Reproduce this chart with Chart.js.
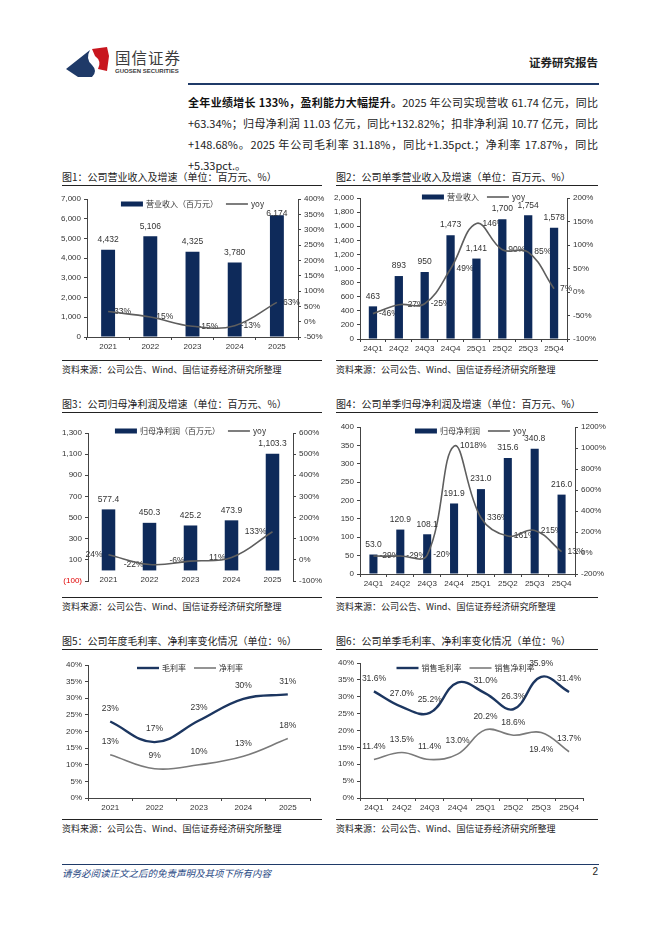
<!DOCTYPE html>
<html lang="zh-CN">
<head>
<meta charset="utf-8">
<title>国信证券 证券研究报告</title>
<script src="https://cdn.jsdelivr.net/npm/chart.js@4.4.1/dist/chart.umd.min.js"></script>
<style>
  html, body { margin: 0; padding: 0; background: #fff; }
  body { width: 662px; height: 936px; position: relative; overflow: hidden;
         font-family: "Noto Sans CJK SC", sans-serif; color: #222; }
  .abs { position: absolute; }
  .brand { left: 115px; top: 48px; font-size: 15.5px; line-height: 18px; letter-spacing: 1px; color: #3c3c3c; }
  .brand-en { left: 115px; top: 68px; font-family: Arial, "Liberation Sans", sans-serif; font-size: 6px; font-weight: bold; color: #3c3c3c; }
  .report { right: 64px; top: 54px; font-size: 11.5px; font-weight: bold; color: #222; }
  .topline { left: 188px; top: 83px; width: 411px; height: 2px; background: #1f3a68; }
  .para { left: 188px; top: 92px; width: 410px; font-size: 11px; line-height: 21px; color: #222; }
  .para div { text-align: justify; text-align-last: justify; }
  .para div.last { text-align-last: left; }
  .para b { font-weight: bold; color: #111; }
  .ftitle { height: 15px; font-size: 10px; line-height: 13px; border-bottom: 1.2px solid #222; white-space: nowrap; }
  .fsrc { font-size: 9px; line-height: 12px; padding-top: 3px; border-top: 1.2px solid #222; white-space: nowrap; }
  .left { left: 62px; width: 260px; }
  .right { left: 336px; width: 262px; }
  .footline { left: 62px; top: 864px; width: 537px; height: 1px; background: #1f3a68; }
  .foot { left: 62px; top: 866px; font-size: 9.5px; font-style: italic; color: #2a4a85; }
  .pageno { right: 64px; top: 866px; font-family: Arial, sans-serif; font-size: 10px; color: #222; }
</style>
</head>
<body>

<svg class="abs" style="left:64px;top:44px" width="48" height="36" viewBox="0 0 48 36">
  <path d="M2 25 L26 6 Q21 15 28 21 Q34 27 28 33 L14 33 Z" fill="#1f3a68"/>
  <path d="M28 5 L43 3 L45 12 L43 27 L34 25 Q38 17 31 12 Z" fill="#c8161e"/>
</svg>
<div class="abs brand">国信证券</div>
<div class="abs brand-en">GUOSEN SECURITIES</div>
<div class="abs report">证券研究报告</div>
<div class="abs topline"></div>

<div class="abs para">
  <div><b>全年业绩增长 133%，盈利能力大幅提升。</b>2025 年公司实现营收 61.74 亿元，同比</div>
  <div>+63.34%；归母净利润 11.03 亿元，同比+132.82%；扣非净利润 10.77 亿元，同比</div>
  <div>+148.68%。2025 年公司毛利率 31.18%，同比+1.35pct.；净利率 17.87%，同比</div>
  <div class="last">+5.33pct.。</div>
</div>

<div class="abs ftitle left" style="top:170px">图1：公司营业收入及增速（单位：百万元、%）</div>
<div class="abs ftitle right" style="top:170px">图2：公司单季营业收入及增速（单位：百万元、%）</div>
<div class="abs fsrc left" style="top:360px">资料来源：公司公告、Wind、国信证券经济研究所整理</div>
<div class="abs fsrc right" style="top:360px">资料来源：公司公告、Wind、国信证券经济研究所整理</div>

<div class="abs ftitle left" style="top:397px">图3：公司归母净利润及增速（单位：百万元、%）</div>
<div class="abs ftitle right" style="top:397px">图4：公司单季归母净利润及增速（单位：百万元、%）</div>
<div class="abs fsrc left" style="top:597px">资料来源：公司公告、Wind、国信证券经济研究所整理</div>
<div class="abs fsrc right" style="top:597px">资料来源：公司公告、Wind、国信证券经济研究所整理</div>

<div class="abs ftitle left" style="top:634px">图5：公司年度毛利率、净利率变化情况（单位：%）</div>
<div class="abs ftitle right" style="top:634px">图6：公司单季毛利率、净利率变化情况（单位：%）</div>
<div class="abs fsrc left" style="top:819px">资料来源：公司公告、Wind、国信证券经济研究所整理</div>
<div class="abs fsrc right" style="top:819px">资料来源：公司公告、Wind、国信证券经济研究所整理</div>

<div class="abs footline"></div>
<div class="abs foot">请务必阅读正文之后的免责声明及其项下所有内容</div>
<div class="abs pageno">2</div>

<script>
// 數據
const years = ['2021', '2022', '2023', '2024', '2025'];
const quarters = ['24Q1', '24Q2', '24Q3', '24Q4', '25Q1', '25Q2', '25Q3', '25Q4'];

const revenueAnnual = [4432, 5106, 4325, 3780, 6174];
const revenueAnnualYoy = [33, 15, -15, -13, 63];
const revenueQuarter = [463, 893, 950, 1473, 1141, 1700, 1754, 1578];
const revenueQuarterYoy = [-46, -27, -25, 49, 146, 90, 85, 7];

const profitAnnual = [577.4, 450.3, 425.2, 473.9, 1103.3];
const profitAnnualYoy = [24, -22, -6, 11, 133];
const profitQuarter = [53.0, 120.9, 108.1, 191.9, 231.0, 315.6, 340.8, 216.0];
const profitQuarterYoy = [-29, -29, -20, 1018, 336, 161, 215, 13];

const grossMarginAnnual = [23.0, 16.8, 23.3, 29.83, 31.18];
const netMarginAnnual = [13.0, 8.8, 10.0, 12.54, 17.87];
const grossMarginQuarter = [31.6, 27.0, 25.2, 34.2, 31.0, 26.3, 35.9, 31.4];
const netMarginQuarter = [11.4, 13.5, 11.4, 13.0, 20.2, 18.6, 19.4, 13.7];

const NAVY = '#0e2a5a';
const GRAY = '#5e5e5e';
const LINE_NAVY = '#1c3660';
const LINE_GRAY = '#7a7a7a';
const AXIS = '#444';
const PAD_T = 12, AX_L = 45, AX_R = 45, AX_B = 22;

Chart.defaults.font.family = 'Arial, "Liberation Sans", "Noto Sans CJK SC", sans-serif';
Chart.defaults.font.size = 8;
Chart.defaults.color = '#333';

const fmtInt = v => Number(v).toLocaleString('en-US');
const fmt1 = v => Number(v).toLocaleString('en-US', { minimumFractionDigits: 1, maximumFractionDigits: 1 });
const pct0 = v => Math.round(v) + '%';
const pct1 = v => Number(v).toFixed(1) + '%';

function makeCanvas(area, rightAxis) {
    const c = document.createElement('canvas');
    const w = (area.R - area.L) + AX_L + (rightAxis ? AX_R : 12);
    const h = (area.B - area.T) + PAD_T + AX_B;
    c.width = w;
    c.height = h;
    c.style.cssText = `position:absolute;left:${area.L - AX_L}px;top:${area.T - PAD_T}px;width:${w}px;height:${h}px`;
    document.body.appendChild(c);
    return c;
}

function yAxis(position, min, max, step, fmt, extraTicks, extraGrid) {
    return {
        position, min, max,
        ticks: Object.assign({ stepSize: step, callback: fmt, padding: 3, autoSkip: false, color: '#333' }, extraTicks || {}),
        grid: Object.assign({ display: true, drawOnChartArea: false, drawTicks: true, tickLength: 3, color: AXIS, tickColor: AXIS }, extraGrid || {}),
        border: { display: true, color: AXIS, width: 1 },
        afterFit: s => { s.width = position === 'left' ? AX_L : AX_R; }
    };
}

function xAxis(extra) {
    return Object.assign({
        type: 'category', offset: true,
        ticks: { padding: 2, autoSkip: false, maxRotation: 0, color: '#333' },
        grid: { display: true, drawOnChartArea: false, drawTicks: true, tickLength: 3, color: AXIS, offset: true },
        border: { display: true, color: AXIS, width: 1 },
        afterFit: s => { s.height = AX_B; }
    }, extra || {});
}

function baseOptions(scales, padRight) {
    return {
        responsive: false,
        maintainAspectRatio: false,
        animation: false,
        events: [],
        layout: { padding: { top: PAD_T, left: 0, right: padRight || 0, bottom: 0 } },
        plugins: { legend: { display: false }, tooltip: { enabled: false } },
        scales
    };
}

// 數據標籤：折線標籤畫在柱子下面，柱子標籤畫在最上面
function drawTags(chart, layer) {
    const ctx = chart.ctx;
    chart.data.datasets.forEach((ds, di) => {
        if (!ds.tags || (ds.tagLayer || 'over') !== layer) return;
        const meta = chart.getDatasetMeta(di);
        ctx.save();
        ctx.font = '8.5px Arial, "Liberation Sans", sans-serif';
        ctx.fillStyle = '#333';
        ctx.textBaseline = 'middle';
        meta.data.forEach((el, i) => {
            const text = ds.tags[i];
            if (text == null) return;
            const place = Array.isArray(ds.tagPlace) ? ds.tagPlace[i] : ds.tagPlace;
            let x = el.x, y = el.y;
            if (place === 'top') { ctx.textAlign = 'center'; y -= (ds.tagGap || 10); }
            else if (place === 'bottom') { ctx.textAlign = 'center'; y += 17; }
            else if (place === 'right') { ctx.textAlign = 'left'; x += 6; }
            else if (place === 'left') { ctx.textAlign = 'right'; x -= 6; }
            if (ds.tagMinY != null) y = Math.max(y, chart.chartArea.top + ds.tagMinY);
            ctx.fillText(text, x, y);
        });
        ctx.restore();
    });
}

const pointTags = {
    id: 'pointTags',
    beforeDatasetsDraw(chart) { drawTags(chart, 'under'); },
    afterDatasetsDraw(chart) { drawTags(chart, 'over'); }
};

// 圖3 的分類標籤：貼在左軸 0 值那條橫線下面
const zeroLineLabels = {
    id: 'zeroLineLabels',
    afterDraw(chart) {
        const ctx = chart.ctx, xs = chart.scales.x, ys = chart.scales.y;
        const y0 = ys.getPixelForValue(0);
        ctx.save();
        ctx.font = '8px Arial, "Liberation Sans", sans-serif';
        ctx.fillStyle = '#333';
        ctx.textAlign = 'center';
        ctx.textBaseline = 'middle';
        chart.data.labels.forEach((lab, i) => ctx.fillText(lab, xs.getPixelForValue(i), y0 + 9));
        ctx.restore();
    }
};

function legendInside(dy, dx) {
    return {
        id: 'legendInside',
        afterDraw(chart) {
            const ctx = chart.ctx, area = chart.chartArea;
            ctx.save();
            ctx.font = '8px "Noto Sans CJK SC", Arial, sans-serif';
            ctx.textBaseline = 'middle';
            ctx.textAlign = 'left';
            const items = chart.data.datasets.map(ds => ({ ds, w: 25 + ctx.measureText(ds.label).width }));
            const gap = 8;
            const total = items.reduce((s, it) => s + it.w, 0) + gap * (items.length - 1);
            let x = (area.left + area.right) / 2 + dx - total / 2;
            const y = area.top + dy;
            items.forEach(({ ds, w }) => {
                if (ds.type === 'bar') {
                    ctx.fillStyle = ds.backgroundColor;
                    ctx.fillRect(x, y - 2.5, 22, 5);
                } else {
                    ctx.strokeStyle = ds.borderColor;
                    ctx.lineWidth = ds.borderWidth;
                    ctx.beginPath();
                    ctx.moveTo(x, y);
                    ctx.lineTo(x + 22, y);
                    ctx.stroke();
                }
                ctx.fillStyle = '#333';
                ctx.fillText(ds.label, x + 25, y);
                x += w + gap;
            });
            ctx.restore();
        }
    };
}

function comboChart(area, cats, bar, line, scales, legendPos, extraPlugins) {
    return new Chart(makeCanvas(area, true), {
        type: 'bar',
        data: {
            labels: cats,
            datasets: [
                Object.assign({ type: 'bar', backgroundColor: NAVY, categoryPercentage: 1, order: 1, yAxisID: 'y', tagPlace: 'top' }, bar),
                Object.assign({ type: 'line', borderColor: GRAY, borderWidth: 1.6, pointRadius: 0, tension: 0.4, fill: false, order: 0, yAxisID: 'y1', tagLayer: 'under' }, line)
            ]
        },
        options: baseOptions(scales),
        plugins: [pointTags, legendInside(legendPos[0], legendPos[1])].concat(extraPlugins || [])
    });
}

// 圖1：年度營收
comboChart({ L: 87, T: 199, R: 298, B: 337 }, years,
    { label: '营业收入（百万元）', data: revenueAnnual, barPercentage: 0.33, tags: revenueAnnual.map(fmtInt), tagMinY: 15 },
    { label: 'yoy', data: revenueAnnualYoy, tags: revenueAnnualYoy.map(pct0), tagPlace: 'right' },
    { x: xAxis(), y: yAxis('left', 0, 7000, 1000, fmtInt), y1: yAxis('right', -50, 400, 50, pct0) },
    [5, 0]);

// 圖2：單季營收
comboChart({ L: 360, T: 198, R: 567, B: 339 }, quarters,
    { label: '营业收入', data: revenueQuarter, barPercentage: 0.32, tags: revenueQuarter.map(fmtInt) },
    { label: 'yoy', data: revenueQuarterYoy, tags: revenueQuarterYoy.map(pct0), tagPlace: 'right' },
    { x: xAxis(), y: yAxis('left', 0, 2000, 200, fmtInt), y1: yAxis('right', -100, 200, 50, pct0) },
    [-1, 10]);

// 圖3：年度歸母淨利潤（橫軸線在 0 的位置）
comboChart({ L: 88, T: 433, R: 293, B: 581 }, years,
    { label: '归母净利润（百万元）', data: profitAnnual, barPercentage: 0.33, tags: profitAnnual.map(fmt1) },
    { label: 'yoy', data: profitAnnualYoy, tags: profitAnnualYoy.map(pct0), tagPlace: 'left' },
    {
        x: xAxis({
            ticks: { display: false },
            grid: { display: false, drawTicks: false },
            border: { display: false }
        }),
        y: yAxis('left', -100, 1300, 200, v => v < 0 ? '(' + fmtInt(-v) + ')' : fmtInt(v),
            { color: c => (c.tick && c.tick.value < 0) ? '#e00000' : '#333' },
            { drawOnChartArea: true, color: c => (c.tick && c.tick.value === 0) ? AXIS : 'rgba(0,0,0,0)' }),
        y1: yAxis('right', -100, 600, 100, pct0)
    },
    [-2, 0], [zeroLineLabels]);

// 圖4：單季歸母淨利潤
comboChart({ L: 360, T: 427, R: 575, B: 574 }, quarters,
    { label: '归母净利润', data: profitQuarter, barPercentage: 0.3, tags: profitQuarter.map(fmt1) },
    { label: 'yoy', data: profitQuarterYoy, tags: profitQuarterYoy.map(pct0), tagPlace: 'right' },
    { x: xAxis(), y: yAxis('left', 0, 400, 50, fmtInt), y1: yAxis('right', -200, 1200, 200, pct0) },
    [4, 3]);

function marginChart(area, cats, gross, net, grossName, netName, legendPos) {
    return new Chart(makeCanvas(area, false), {
        type: 'line',
        data: {
            labels: cats,
            datasets: [
                Object.assign({ label: grossName, borderColor: LINE_NAVY, borderWidth: 2.4, pointRadius: 0, tension: 0.4, fill: false, tagPlace: 'top', tagGap: 13 }, gross),
                Object.assign({ label: netName, borderColor: LINE_GRAY, borderWidth: 1.6, pointRadius: 0, tension: 0.4, fill: false, tagPlace: 'top', tagGap: 13 }, net)
            ]
        },
        options: baseOptions({ x: xAxis(), y: yAxis('left', 0, 40, 5, pct0) }, 12),
        plugins: [pointTags, legendInside(legendPos[0], legendPos[1])]
    });
}

// 圖5：年度毛利率、淨利率
marginChart({ L: 88, T: 665, R: 310, B: 798 }, years,
    { data: grossMarginAnnual, tags: grossMarginAnnual.map(pct0) },
    { data: netMarginAnnual, tags: netMarginAnnual.map(pct0) },
    '毛利率', '净利率', [3, -9]);

// 圖6：單季毛利率、淨利率（24Q4 毛利率無標籤，25Q3 淨利率標籤在下方）
const grossQuarterTags = grossMarginQuarter.map(pct1);
grossQuarterTags[3] = null;
marginChart({ L: 360, T: 663, R: 583, B: 798 }, quarters,
    { data: grossMarginQuarter, tags: grossQuarterTags },
    { data: netMarginQuarter, tags: netMarginQuarter.map(pct1),
      tagPlace: ['top', 'top', 'top', 'top', 'top', 'top', 'bottom', 'top'] },
    '销售毛利率', '销售净利率', [5, -6]);
</script>
</body>
</html>
